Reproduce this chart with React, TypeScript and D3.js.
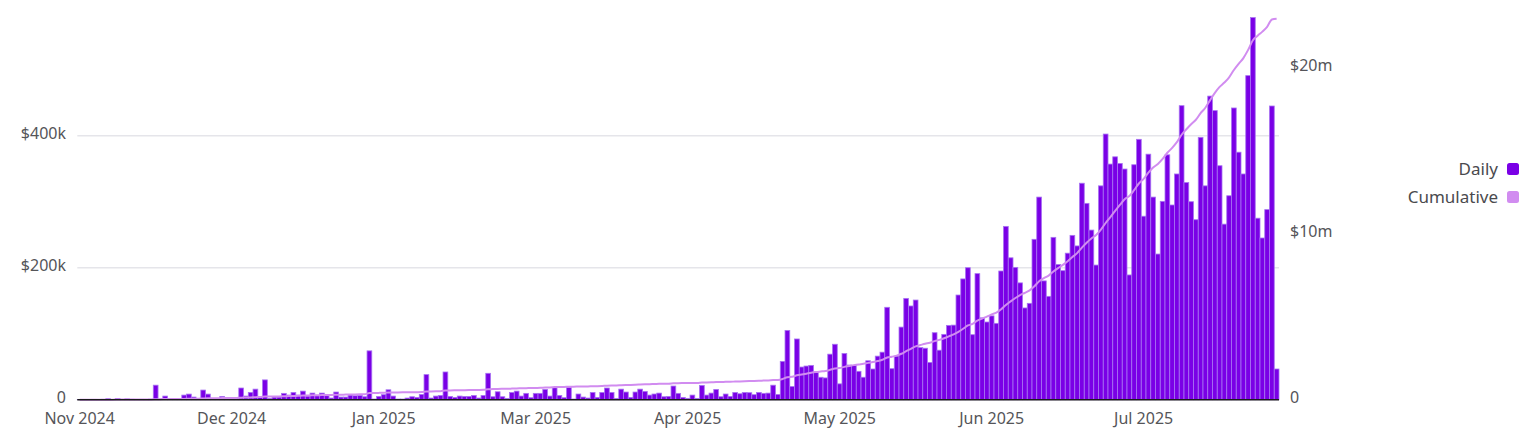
import React from "react";
import * as d3 from "d3";

// Daily revenue in $k, one value per day starting 2024-11-26
const dailyK: number[] = [
  0.3, 0.2, 0.4, 0.5, 0.3, 0.6, 1.5, 0.4, 1.8, 0.5, 1.2, 0.6, 0.4, 0.5, 0.3, 0.8,
  22, 1, 5.5, 1, 1, 1.5, 7, 8.5, 4, 2, 14.6, 8.5, 2, 2, 5, 2.5, 3, 2.5, 17.7, 5.5,
  11, 16, 5, 30, 2, 4, 4, 9.6, 7, 11, 7, 13, 5.5, 10, 6,
  10, 6, 2.5, 11.6, 4, 4, 7, 6, 6.5, 4.5, 74, 1, 5, 7.6, 15, 5.5, 1, 1, 2.5, 4.5,
  3.5, 8, 38, 2.5, 5.5, 6.5, 42, 5, 3.5, 5.5, 5, 5, 6.5, 2.5, 6.5, 40, 4.5, 12, 4.5, 2,
  11, 13, 5.5, 9.6, 3, 9.6, 9.6, 15.6, 5.5, 18,
  6.5, 3, 18.7, 1, 8.6, 4, 2.5, 11, 3.5, 11, 17.7, 11, 2, 16, 11.6, 3.5, 11.6, 16, 12.6, 7,
  8.6, 10, 4.5, 5, 20.7, 9.6, 3.5, 2, 7, 2, 21.7, 7, 10, 15.6, 4.5, 8.6, 5, 11, 9, 11,
  10.6, 7.6, 11, 9.6, 10, 22, 8, 58, 105, 20,
  92, 49.5, 51, 52, 42, 34, 33, 69, 84, 24, 70, 52.5, 52, 43, 34, 59, 46.5, 66, 72, 140,
  47, 66, 110, 153.5, 142, 151, 79, 78, 56.5, 101.5, 75, 99, 112.6, 113, 158.6, 183, 200, 98.5, 191, 124,
  117.7, 127, 115.7, 195, 262.6, 215, 200.5, 177, 139,
  146, 243, 307, 180, 156.6, 246, 205, 195.5, 222, 249, 233, 328, 297.5, 257, 204, 324, 402.5, 357, 368, 358,
  349.5, 189, 356, 394.5, 278, 372, 307, 220.7, 300.5, 371, 295, 342, 445.5, 329, 300, 272.7, 397.5, 324, 460, 438,
  354.5, 266, 309, 442, 375, 342, 491, 579, 275, 245, 288, 445, 46.5,
];

const startDate = new Date(2024, 10, 26);
const dates: Date[] = dailyK.map((_, i) => d3.timeDay.offset(startDate, i));
const tickEvery = 32;
const tickLabels: string[] = [
  "Nov 2024", "Dec 2024", "Jan 2025", "Mar 2025", "Apr 2025", "May 2025", "Jun 2025", "Jul 2025",
];
const leftTicks: number[] = [0, 200, 400];
const leftTickLabels: string[] = ["0", "$200k", "$400k"];
const rightTicks: number[] = [0, 10, 20];
const rightTickLabels: string[] = ["0", "$10m", "$20m"];
const legendItems: string[] = ["Daily", "Cumulative"];

const DAILY = "#7a00e6";
const DAILY_EDGE = "#a874f2";
const CUM = "#d18cf0";
const TEXT = "#555559";
const FONT = "'Noto Sans', 'Liberation Sans', sans-serif";

export default function App() {
  const W = 1526;
  const H = 431;
  const n = dailyK.length;
  const x = d3.scaleBand<number>().domain(d3.range(n)).range([77.3, 1279]).padding(0);
  const bw = x.bandwidth();
  const yL = d3.scaleLinear().domain([0, 400]).range([399.7, 135.7]);
  const yR = d3.scaleLinear().domain([0, 20]).range([399.7, 67]);
  const cumM = Array.from(d3.cumsum(dailyK)).map((v) => v / 1000);
  const line = d3
    .line<number>()
    .x((_, i) => (x(i) as number) + bw / 2)
    .y((d) => yR(d))
    .curve(d3.curveMonotoneX);
  const tickIdx = d3.range(0, n, tickEvery);
  const x0 = x.range()[0];
  const x1 = x.range()[1];

  return (
    <svg
      width={W}
      height={H}
      style={{ position: "absolute", left: 0, top: 0, background: "#fff" }}
      fontFamily={FONT}
    >
      {leftTicks.filter((t) => t > 0).map((t) => (
        <line key={t} x1={x0} x2={x1} y1={yL(t)} y2={yL(t)} stroke="#e5e5ea" strokeWidth={1.5} />
      ))}
      <g>
        {dailyK.map((v, i) => (
          <rect
            key={i}
            x={x(i)}
            y={yL(v)}
            width={bw}
            height={Math.max(0, yL(0) - yL(v))}
            fill={DAILY}
            stroke={DAILY_EDGE}
            strokeWidth={0.8}
          />
        ))}
      </g>
      <path d={line(cumM) || ""} fill="none" stroke={CUM} strokeWidth={2} />
      <line x1={x0} x2={x1} y1={yL(0)} y2={yL(0)} stroke="#1c1c1c" strokeWidth={1.5} />
      {leftTicks.map((t, i) => (
        <text key={t} x={66} y={yL(t) - 2} dy="0.35em" textAnchor="end" fontSize={16} fill={TEXT}>
          {leftTickLabels[i]}
        </text>
      ))}
      {rightTicks.map((t, i) => (
        <text key={t} x={1290} y={yR(t) - 2} dy="0.35em" textAnchor="start" fontSize={16} fill={TEXT}>
          {rightTickLabels[i]}
        </text>
      ))}
      {tickIdx.map((ti, k) => (
        <text
          key={ti}
          x={(x(ti) as number) + bw / 2}
          y={418}
          dy="0.35em"
          textAnchor="middle"
          fontSize={16}
          fill={TEXT}
          data-date={d3.timeFormat("%Y-%m-%d")(dates[ti])}
        >
          {tickLabels[k]}
        </text>
      ))}
      {legendItems.map((name, i) => (
        <g key={name} transform={`translate(0, ${169 + i * 28})`}>
          <text x={1498} y={0} dy="0.35em" textAnchor="end" fontSize={17} fill="#4a4a4e">
            {name}
          </text>
          <rect x={1507} y={-6} width={12} height={12} rx={2.5} fill={i === 0 ? DAILY : CUM} />
        </g>
      ))}
    </svg>
  );
}
